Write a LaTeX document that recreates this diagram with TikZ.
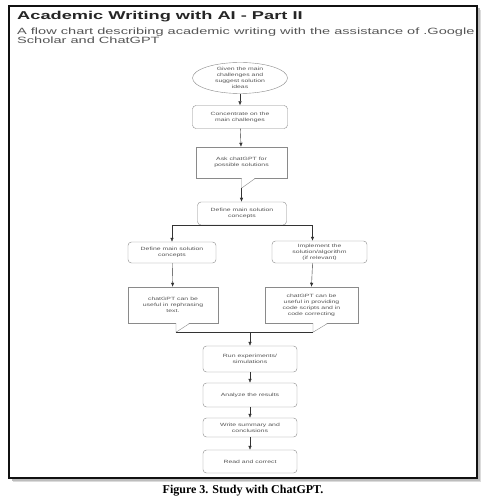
\documentclass[tikz,border=0pt]{standalone}
\usepackage{fontspec}
\setmainfont{Liberation Serif}
\newfontfamily\headfont{Liberation Sans}[FakeStretch=1.6]
\newfontfamily\chartfont{Liberation Sans}[FakeStretch=1.5]
\usetikzlibrary{arrows.meta, positioning, shapes.geometric}
\definecolor{FrameBlack}{HTML}{111111}
\definecolor{ShadowGray}{HTML}{BDBDBD}
\definecolor{BoxGray}{HTML}{8A8A8A}
\definecolor{TextGray}{HTML}{555555}
\definecolor{ArrowGray}{HTML}{333333}
\tikzset{
  chartfontsize/.style={font=\chartfont\fontsize{4.6}{6}\selectfont},
  stepbox/.style={draw=BoxGray, rounded corners=3.5pt, fill=white, align=center, minimum width=94pt, minimum height=23pt, inner sep=1pt, chartfontsize, text=TextGray},
  startnode/.style={ellipse, draw=BoxGray, fill=white, align=center, minimum width=95pt, minimum height=31pt, inner sep=0pt, chartfontsize, text=TextGray},
  notebox/.style={draw=BoxGray, fill=white, align=center, minimum height=36pt, inner sep=1pt, chartfontsize, text=TextGray},
  tailline/.style={draw=BoxGray, line join=miter},
  arrow/.style={-{Latex[length=4pt, width=3.4pt]}, draw=ArrowGray},
  joinline/.style={draw=ArrowGray}
}

\begin{document}
\begin{tikzpicture}[x=1pt, y=-1pt]
\useasboundingbox (0,0) rectangle (486,502);

% screenshot frame with drop shadow
\fill[ShadowGray!55] (13,10) rectangle (481,482);
\fill[ShadowGray] (11.5,8.5) rectangle (479.5,480.5);
\draw[FrameBlack, line width=1.3pt, fill=white] (9,6) rectangle (477,478);

\node[anchor=base west, inner sep=0pt, font=\headfont\bfseries\fontsize{11.4}{13}\selectfont, text=black!85] (title) at (17,19.5) {Academic Writing with AI - Part II};
\node[anchor=north west, inner sep=0pt, align=left, font=\headfont\fontsize{9.1}{9.5}\selectfont, text=TextGray] (subtitle) at (17,27.5) {A flow chart describing academic writing with the assistance of .Google\\Scholar and ChatGPT};

% upper column
\node[startnode] (given) at (240,78) {Given the main\\challenges and\\suggest solution\\ideas};
\node[stepbox, minimum width=95pt] (concentrate) at (240,117) {Concentrate on the\\main challenges};
\node[notebox, minimum width=91pt, minimum height=31pt] (ask) at (241.5,162.5) {Ask chatGPT for\\possible solutions};
\node[stepbox, minimum width=89pt] (define) at (242,213.5) {Define main solution\\concepts};

% two branches
\node[stepbox, minimum width=88pt, minimum height=21pt] (defineL) at (172,252.5) {Define main solution\\concepts};
\node[stepbox, minimum width=95pt, minimum height=22pt] (implement) at (319.5,252) {Implement the\\solution/algorithm\\(if relevant)};
\node[notebox, minimum width=90pt] (noteL) at (173,305) {chatGPT can be\\useful in rephrasing\\text.};
\node[notebox, minimum width=93pt] (noteR) at (311.5,305) {chatGPT can be\\useful in providing\\code scripts and in\\code correcting};

% lower column
\node[stepbox, minimum height=26pt] (run) at (250,359) {Run experiments/\\simulations};
\node[stepbox, minimum height=24pt] (analyze) at (250,395) {Analyze the results};
\node[stepbox, minimum height=19pt] (write) at (250,427.5) {Write summary and\\conclusions};
\node[stepbox, minimum height=23pt] (read) at (250,461.5) {Read and correct};

% callout tails
\fill[white] ([yshift=0.6pt]ask.south) -- ++(0,10.6) -- ([xshift=14pt, yshift=0.6pt]ask.south) -- cycle;
\draw[tailline] (ask.south) -- ++(0,10) coordinate (askTip) -- ([xshift=14pt]ask.south);
\fill[white] ([xshift=3pt, yshift=0.6pt]noteL.south) -- ++(0,9.6) -- ([xshift=17pt, yshift=0.6pt]noteL.south) -- cycle;
\draw[tailline] ([xshift=3pt]noteL.south) -- ++(0,9) coordinate (tipL) -- ([xshift=17pt]noteL.south);
\fill[white] ([xshift=1.5pt, yshift=0.6pt]noteR.south) -- ++(0,9.6) -- ([xshift=16.5pt, yshift=0.6pt]noteR.south) -- cycle;
\draw[tailline] ([xshift=1.5pt]noteR.south) -- ++(0,9) coordinate (tipR) -- ([xshift=16.5pt]noteR.south);

% connectors
\draw[arrow] (given) -- (concentrate);
\draw[arrow] (concentrate) -- (ask);
\draw[arrow] (askTip) -- (askTip |- define.north);
\draw[arrow] (define.south) -| (defineL.north);
\draw[arrow] (define.south) -| ([xshift=-7pt]implement.north);
\draw[arrow] (defineL) -- (noteL);
\draw[arrow] ([xshift=-7pt]implement.south) -- (noteR.north);
\draw[joinline] (tipL) -- (tipR);
\draw[arrow] (run.north |- tipL) -- (run.north);
\draw[arrow] (run) -- (analyze);
\draw[arrow] (analyze) -- (write);
\draw[arrow] (write) -- (read);

\node[anchor=base, font=\bfseries\fontsize{12}{14}\selectfont] (caption) at (243,493) {Figure 3. Study with ChatGPT.};
\end{tikzpicture}
\end{document}
